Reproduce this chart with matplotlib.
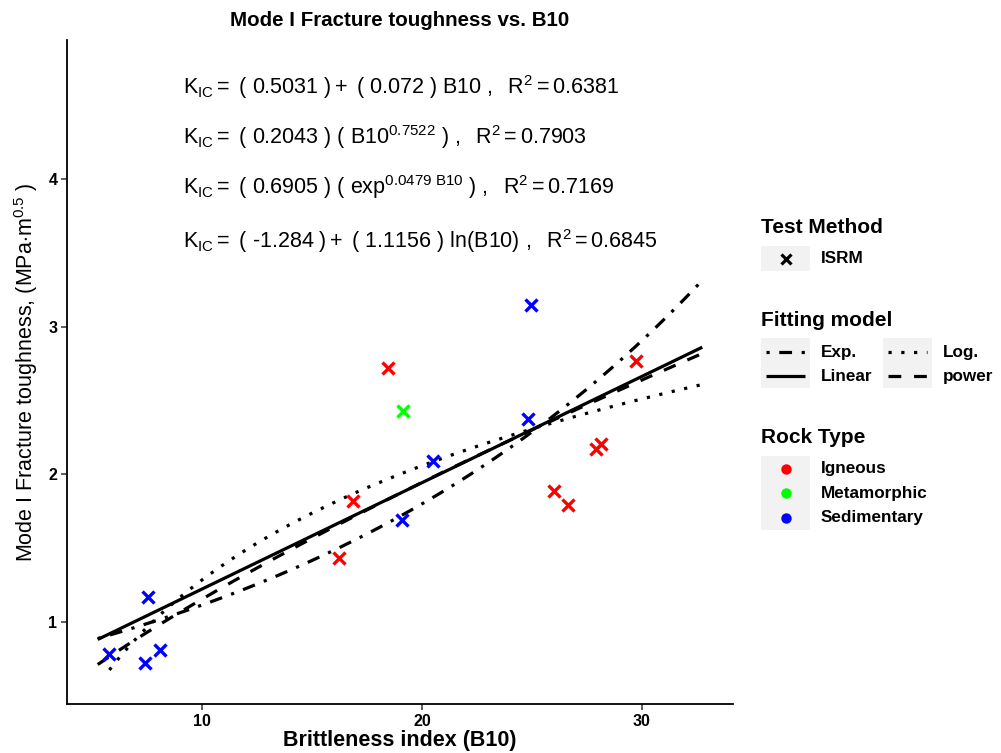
import numpy as np
import matplotlib
matplotlib.use("Agg")
import matplotlib.pyplot as plt
from matplotlib.patches import Rectangle
from matplotlib.lines import Line2D

plt.rcParams['font.family'] = ['Liberation Sans', 'DejaVu Sans']
plt.rcParams['mathtext.fontset'] = 'custom'
plt.rcParams['mathtext.rm'] = 'Liberation Sans'
plt.rcParams['mathtext.it'] = 'Liberation Sans:italic'
plt.rcParams['mathtext.bf'] = 'Liberation Sans:bold'

# Measured specimens
b10 = [5.79, 7.56, 7.41, 8.09, 16.25, 16.88, 18.47, 19.15, 19.10, 20.49,
       24.80, 24.94, 26.01, 26.62, 27.91, 28.14, 29.73]
kic = [0.783, 1.167, 0.720, 0.810, 1.430, 1.821, 2.718, 2.431, 1.691, 2.090,
       2.374, 3.146, 1.885, 1.792, 2.169, 2.205, 2.767]
rock = ['Sedimentary', 'Sedimentary', 'Sedimentary', 'Sedimentary',
        'Igneous', 'Igneous', 'Igneous', 'Metamorphic',
        'Sedimentary', 'Sedimentary', 'Sedimentary', 'Sedimentary',
        'Igneous', 'Igneous', 'Igneous', 'Igneous', 'Igneous']
rock_types = ['Igneous', 'Metamorphic', 'Sedimentary']
rock_colors = {'Igneous': '#FF0000', 'Metamorphic': '#00FF00', 'Sedimentary': '#0000FF'}

# Fitted model coefficients
lin_a, lin_b, lin_r2 = 0.5031, 0.072, 0.6381
pow_a, pow_b, pow_r2 = 0.2043, 0.7522, 0.7903
exp_a, exp_b, exp_r2 = 0.6905, 0.0479, 0.7169
log_a, log_b, log_r2 = -1.284, 1.1156, 0.6845
fit_start, fit_end = 5.26, 32.74
log_start = 5.79

x_fit = np.linspace(fit_start, fit_end, 300)
x_log = np.linspace(log_start, fit_end, 300)
fits = {
    'Exp.': (x_fit, exp_a * np.exp(exp_b * x_fit)),
    'Linear': (x_fit, lin_a + lin_b * x_fit),
    'Log.': (x_log, log_a + log_b * np.log(x_log)),
    'power': (x_fit, pow_a * x_fit ** pow_b),
}
dash_styles = {
    'Exp.': (0, (1, 3, 4, 3)),
    'Linear': '-',
    'Log.': (0, (1, 3)),
    'power': (0, (4, 4)),
}

W, H = 1001, 753
fig = plt.figure(figsize=(W / 100, H / 100), dpi=100)
ax = fig.add_axes([67 / W, (H - 704) / H, (733 - 67) / W, (704 - 40) / H])

LW = 2.3
for name in ['Exp.', 'Linear', 'Log.', 'power']:
    xs, ys = fits[name]
    ax.plot(xs, ys, color='black', lw=LW, linestyle=dash_styles[name],
            solid_capstyle='butt', dash_capstyle='butt', zorder=2)

for x, y, r in zip(b10, kic, rock):
    ax.plot(x, y, marker='x', color=rock_colors[r], markersize=9, mew=2.4,
            linestyle='none', zorder=3)

ax.set_xlim(3.864, 34.136)
ax.set_ylim(0.445, 4.940)
ax.set_xticks([10, 20, 30])
ax.set_yticks([1, 2, 3, 4])
for s in ['top', 'right']:
    ax.spines[s].set_visible(False)
for s in ['left', 'bottom']:
    ax.spines[s].set_linewidth(1.3)
    ax.spines[s].set_color('black')
ax.tick_params(axis='both', length=4, width=1.1, color='#333333',
               labelsize=11.5, labelcolor='black', pad=3)
for lab in ax.get_xticklabels() + ax.get_yticklabels():
    lab.set_fontweight('bold')

ax.set_title('Mode I Fracture toughness vs. B10', fontsize=14.8, fontweight='bold', pad=10)
ax.set_xlabel('Brittleness index (B10)', fontsize=15.5, fontweight='bold', labelpad=1)
ax.set_ylabel(r'Mode I Fracture toughness, (MPa$\cdot$m$^{0.5}$ )', fontsize=15.5, labelpad=6)

eqs = [
    r'$\mathregular{K_{IC} = \ (\ 0.5031\ ) + \ (\ 0.072\ )\ B10\ ,\ \ R^2 = 0.6381}$',
    r'$\mathregular{K_{IC} = \ (\ 0.2043\ )\ (\ B10^{0.7522}\ )\ ,\ \ R^2 = 0.7903}$',
    r'$\mathregular{K_{IC} = \ (\ 0.6905\ )\ (\ exp^{0.0479\ B10}\ )\ ,\ \ R^2 = 0.7169}$',
    r'$\mathregular{K_{IC} = \ (\ \text{-1.284}\ ) + \ (\ 1.1156\ )\ ln(B10)\ ,\ \ R^2 = 0.6845}$',
]
eq_y = [4.62, 4.283, 3.945, 3.58]
for t, y in zip(eqs, eq_y):
    ax.text(9.14, y, t, fontsize=15.5, ha='left', va='center')

# Legend panel drawn in figure pixel coordinates
lg = fig.add_axes([0, 0, 1, 1], facecolor='none')
lg.set_xlim(0, W)
lg.set_ylim(H, 0)
lg.axis('off')
KEY_BG = '#F2F2F2'
TITLE_FS = 15
LAB_FS = 12.3

lg.text(761, 227, 'Test Method', fontsize=TITLE_FS, fontweight='bold', va='center')
lg.add_patch(Rectangle((761, 246), 49, 25, facecolor=KEY_BG, edgecolor='none'))
lg.plot(785.5, 258.5, marker='x', color='black', markersize=7.5, mew=2.3)
lg.text(821, 258.5, 'ISRM', fontsize=LAB_FS, fontweight='bold', va='center')

lg.text(761, 320, 'Fitting model', fontsize=TITLE_FS, fontweight='bold', va='center')
key_cols = [(761, 821, ['Exp.', 'Linear']), (883, 943, ['Log.', 'power'])]
row_y = [352, 376]
for bx, tx, names in key_cols:
    lg.add_patch(Rectangle((bx, 338), 49, 50, facecolor=KEY_BG, edgecolor='none'))
    for name, ry in zip(names, row_y):
        lg.add_line(Line2D([bx + 5, bx + 44], [ry, ry], color='black', lw=LW,
                           linestyle=dash_styles[name], solid_capstyle='butt',
                           dash_capstyle='butt'))
        lg.text(tx, ry, name, fontsize=LAB_FS, fontweight='bold', va='center')

lg.text(761, 437, 'Rock Type', fontsize=TITLE_FS, fontweight='bold', va='center')
lg.add_patch(Rectangle((761, 456), 49, 74, facecolor=KEY_BG, edgecolor='none'))
for name, ry in zip(rock_types, [468.5, 493, 517.5]):
    lg.plot(785.5, ry, marker='o', color=rock_colors[name], markersize=7.5, mec='none')
    lg.text(821, ry, name, fontsize=LAB_FS, fontweight='bold', va='center')

fig.savefig('out.png', dpi=100, facecolor='white')
